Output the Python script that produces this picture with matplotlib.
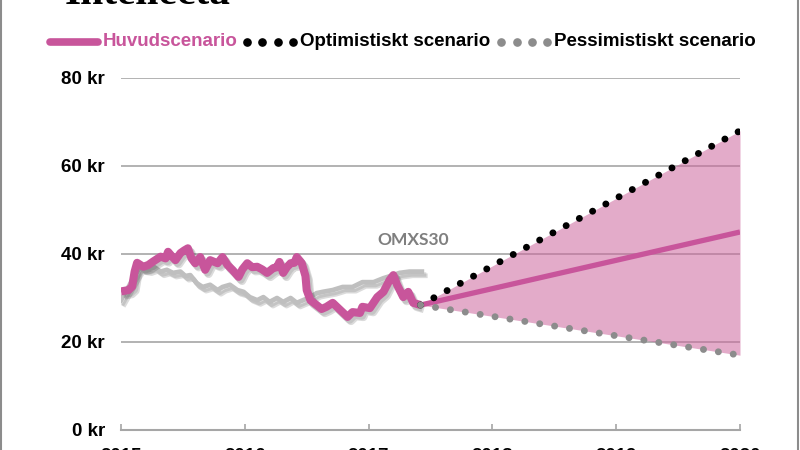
import matplotlib
matplotlib.use("Agg")
import matplotlib.pyplot as plt
import matplotlib.patheffects as pe

# ---------------- data ----------------
hist_years = [2015.00, 2015.06, 2015.09, 2015.11, 2015.13, 2015.18, 2015.22, 2015.26, 2015.32,
              2015.36, 2015.38, 2015.41, 2015.44, 2015.48, 2015.51, 2015.54, 2015.57, 2015.60,
              2015.64, 2015.68, 2015.72, 2015.78, 2015.82, 2015.86, 2015.90, 2015.95, 2015.98,
              2016.02, 2016.06, 2016.10, 2016.14, 2016.18, 2016.23, 2016.26, 2016.28, 2016.31,
              2016.34, 2016.37, 2016.40, 2016.42, 2016.46, 2016.49, 2016.50, 2016.53, 2016.58,
              2016.62, 2016.66, 2016.71, 2016.77, 2016.83, 2016.87, 2016.93, 2016.95, 2017.01,
              2017.07, 2017.12, 2017.17, 2017.20, 2017.23, 2017.28, 2017.32, 2017.36, 2017.42]
hist_price = [31.5, 31.8, 32.6, 36.0, 38.0, 37.1, 37.5, 38.3, 39.4,
              39.0, 40.5, 39.5, 38.6, 40.2, 40.8, 41.3, 39.0, 37.9,
              39.3, 36.4, 38.6, 37.9, 39.3, 37.5, 36.4, 34.8, 36.5,
              37.9, 37.0, 37.1, 36.5, 35.7, 36.8, 37.0, 38.2, 35.7,
              37.0, 37.9, 38.0, 39.3, 37.9, 35.0, 31.8, 29.5, 28.4,
              27.5, 28.0, 28.9, 27.3, 25.7, 26.8, 26.6, 28.0, 27.7,
              30.2, 31.4, 34.1, 35.2, 33.0, 30.2, 31.4, 28.9, 28.4]

omx_years = [2015.00, 2015.03, 2015.07, 2015.11, 2015.15, 2015.22, 2015.27, 2015.32, 2015.37,
             2015.42, 2015.48, 2015.52, 2015.56, 2015.61, 2015.66, 2015.72, 2015.78, 2015.82,
             2015.88, 2015.94, 2015.99, 2016.04, 2016.10, 2016.15, 2016.20, 2016.26, 2016.31,
             2016.37, 2016.42, 2016.47, 2016.53, 2016.58, 2016.63, 2016.71, 2016.79, 2016.87,
             2016.95, 2017.04, 2017.12, 2017.20, 2017.25, 2017.33, 2017.43]
omx_index = [29.5, 31.0, 33.0, 35.0, 36.8, 36.5, 37.0, 36.0, 36.4,
             35.7, 36.0, 35.0, 35.2, 33.4, 32.5, 33.0, 31.8, 32.5,
             33.0, 31.8, 31.4, 30.2, 29.5, 30.2, 29.1, 30.0, 29.1,
             30.0, 28.9, 29.5, 30.2, 31.1, 31.4, 31.8, 32.5, 32.5,
             33.6, 33.6, 34.5, 35.2, 35.7, 36.0, 36.0]

proj_years = [2017.42, 2020.0]
main_scenario = [28.4, 45.0]
optimistic = [28.4, 68.0]
pessimistic = [28.4, 17.0]

xticks = [2015, 2016, 2017, 2018, 2019, 2020]
yticks = [0, 20, 40, 60, 80]
ytick_labels = ["0 kr", "20 kr", "40 kr", "60 kr", "80 kr"]

# ---------------- style ----------------
PINK = "#C8559B"
FILL = (0.80, 0.40, 0.62)
GRID = "#A6A6A6"
GRAYLINE = "#BFBFBF"
GRAYDOT = "#8C8C8C"
FONT = ["Liberation Sans", "DejaVu Sans"]

W, H = 800, 450
fig = plt.figure(figsize=(8, 4.5), dpi=100)
fig.patch.set_facecolor("white")

ax = fig.add_axes([121 / W, 1 - 430 / H, (740 - 121) / W, (430 - 78) / H])
ax.set_xlim(2015, 2020)
ax.set_ylim(0, 80)
ax.set_axisbelow(True)

for s in ["left", "right", "top"]:
    ax.spines[s].set_visible(False)
ax.spines["bottom"].set_color(GRID)
ax.spines["bottom"].set_linewidth(1.5)

ax.yaxis.grid(True, color=GRID, linewidth=1.2)
ax.set_yticks(yticks)
ax.set_yticklabels(ytick_labels)
ax.set_xticks(xticks)
ax.set_xticklabels([str(x) for x in xticks])
ax.tick_params(axis="y", length=0, pad=11.5)
ax.tick_params(axis="x", direction="in", length=4.3, width=1.2, color=GRID, pad=13)
for lab in ax.get_yticklabels() + ax.get_xticklabels():
    lab.set_fontfamily(FONT)
    lab.set_fontweight("bold")
    lab.set_fontsize(13.5)
    lab.set_color("black")

# forecast cone
ax.fill_between(proj_years, pessimistic, optimistic, color=FILL, alpha=0.55,
                linewidth=0, zorder=1)

shadow = [pe.SimpleLineShadow(offset=(2.5, -3), shadow_color="black", alpha=0.14),
          pe.SimpleLineShadow(offset=(1.5, -2), shadow_color="black", alpha=0.10),
          pe.Normal()]

ax.plot(omx_years, omx_index, color=GRAYLINE, linewidth=3.4, zorder=3,
        solid_joinstyle="round", path_effects=shadow)
ax.plot(hist_years, hist_price, color=PINK, linewidth=5.8, zorder=4,
        solid_joinstyle="round", solid_capstyle="butt", path_effects=shadow)

ax.plot(proj_years, main_scenario, color=PINK, linewidth=3.8, zorder=5,
        solid_capstyle="butt")
ax.plot(proj_years, optimistic, color="black", linewidth=5.0, zorder=6,
        linestyle=(0, (0.01, 2.16)), dash_capstyle="round")
ax.plot(proj_years, pessimistic, color=GRAYDOT, linewidth=5.0, zorder=6,
        linestyle=(0, (0.01, 2.16)), dash_capstyle="round")

ax.text(2017.07, 43.2, "OMXS30", color="#7F7F7F", fontsize=12.5, fontweight="bold",
        family=["Lato", "DejaVu Sans"], ha="left", va="center")

# ---------------- overlay (title, legend, frame) ----------------
ov = fig.add_axes([0, 0, 1, 1], zorder=10)
ov.set_xlim(0, W)
ov.set_ylim(H, 0)
ov.axis("off")
ov.patch.set_alpha(0)

ov.text(65, 4, "Intellecta", family=["Liberation Serif", "DejaVu Serif"],
        fontweight="bold", fontsize=30, ha="left", va="baseline", color="black")

ly = 42
ov.plot([50, 98], [ly, ly], color=PINK, linewidth=5.5, solid_capstyle="round")
ov.text(103, ly, "Huvudscenario", color=PINK, fontsize=13.5, fontweight="bold",
        family=FONT, ha="left", va="center")
ov.plot([247, 262, 278, 293], [ly] * 4, linestyle="none", marker="o",
        markersize=5.2, color="black")
ov.text(300, ly, "Optimistiskt scenario", color="black", fontsize=13.5,
        fontweight="bold", family=FONT, ha="left", va="center")
ov.plot([501, 517, 532, 547], [ly] * 4, linestyle="none", marker="o",
        markersize=5.2, color=GRAYDOT)
ov.text(554, ly, "Pessimistiskt scenario", color="black", fontsize=13.5,
        fontweight="bold", family=FONT, ha="left", va="center")

ov.plot([0.8, 0.8], [0, H], color="#8C8C8C", linewidth=1.5)
ov.plot([797.5, 797.5], [0, H], color="#8C8C8C", linewidth=1.5)

fig.savefig("out.png", dpi=100, facecolor="white")
